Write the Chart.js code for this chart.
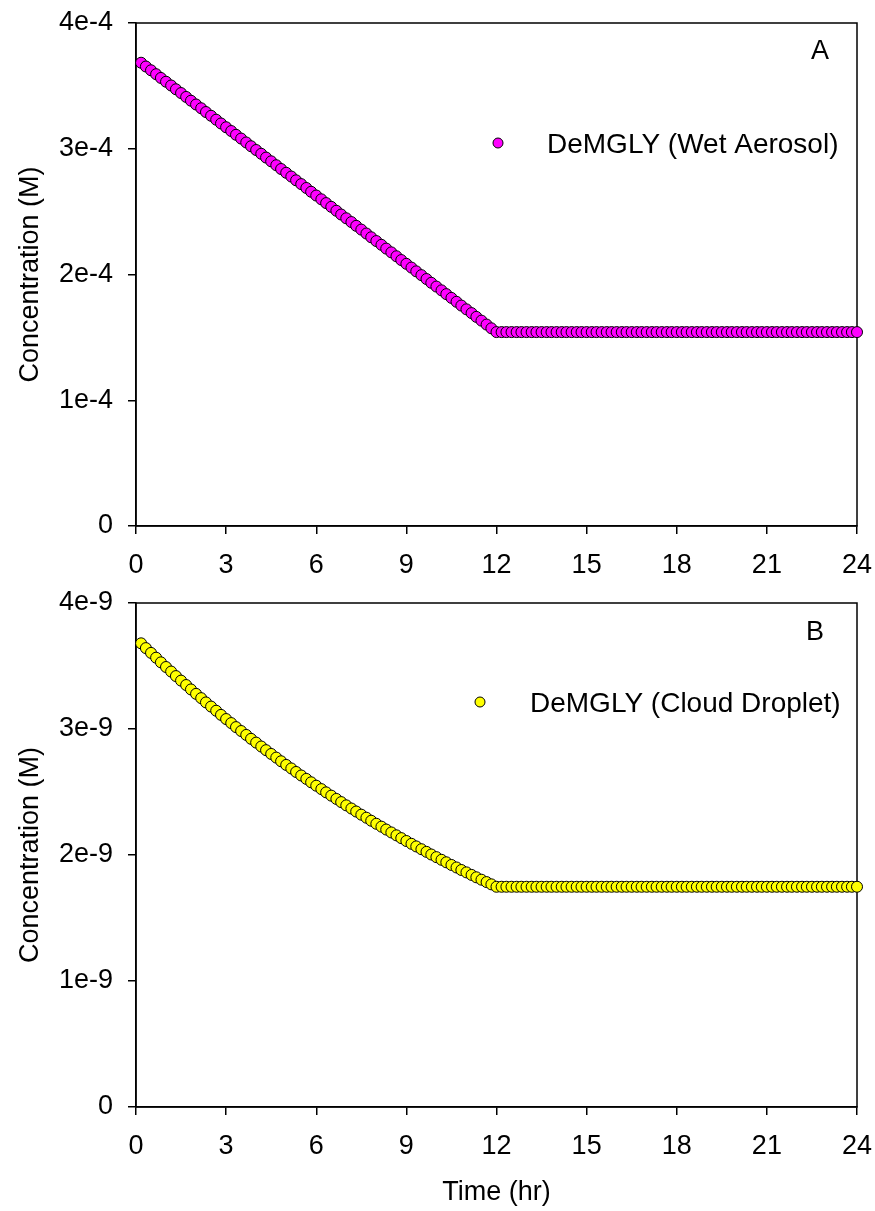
<!DOCTYPE html>
<html>
<head>
<meta charset="utf-8">
<script src="https://cdn.jsdelivr.net/npm/chart.js@4"></script>
<style>
  body { margin: 0; background: #fff; }
  #wrap { position: relative; width: 875px; height: 1211px; }
  canvas { position: absolute; left: 0; }
</style>
</head>
<body>
<div id="wrap">
  <canvas id="chartA" width="875" height="590" style="top:0"></canvas>
  <canvas id="chartB" width="875" height="621" style="top:590px"></canvas>
</div>
<script>
// time in hours (every 10 minutes)
const timeHr = [
  0.17,0.33,0.5,0.67,0.83,1, 1.17,1.33,1.5,1.67,1.83,2,
  2.17,2.33,2.5,2.67,2.83,3, 3.17,3.33,3.5,3.67,3.83,4,
  4.17,4.33,4.5,4.67,4.83,5, 5.17,5.33,5.5,5.67,5.83,6,
  6.17,6.33,6.5,6.67,6.83,7, 7.17,7.33,7.5,7.67,7.83,8,
  8.17,8.33,8.5,8.67,8.83,9, 9.17,9.33,9.5,9.67,9.83,10,
  10.17,10.33,10.5,10.67,10.83,11, 11.17,11.33,11.5,11.67,11.83,12,
  12.17,12.33,12.5,12.67,12.83,13, 13.17,13.33,13.5,13.67,13.83,14,
  14.17,14.33,14.5,14.67,14.83,15, 15.17,15.33,15.5,15.67,15.83,16,
  16.17,16.33,16.5,16.67,16.83,17, 17.17,17.33,17.5,17.67,17.83,18,
  18.17,18.33,18.5,18.67,18.83,19, 19.17,19.33,19.5,19.67,19.83,20,
  20.17,20.33,20.5,20.67,20.83,21, 21.17,21.33,21.5,21.67,21.83,22,
  22.17,22.33,22.5,22.67,22.83,23, 23.17,23.33,23.5,23.67,23.83,24
];

// DeMGLY, wet aerosol (M)
const wetAerosol = [
  3.684e-4,3.654e-4,3.624e-4,3.593e-4,3.563e-4,3.533e-4,3.503e-4,3.473e-4,3.443e-4,3.412e-4,
  3.382e-4,3.352e-4,3.322e-4,3.292e-4,3.262e-4,3.231e-4,3.201e-4,3.171e-4,3.141e-4,3.111e-4,
  3.081e-4,3.050e-4,3.020e-4,2.990e-4,2.960e-4,2.930e-4,2.900e-4,2.869e-4,2.839e-4,2.809e-4,
  2.779e-4,2.749e-4,2.719e-4,2.688e-4,2.658e-4,2.628e-4,2.598e-4,2.568e-4,2.538e-4,2.507e-4,
  2.477e-4,2.447e-4,2.417e-4,2.387e-4,2.357e-4,2.326e-4,2.296e-4,2.266e-4,2.236e-4,2.206e-4,
  2.176e-4,2.145e-4,2.115e-4,2.085e-4,2.055e-4,2.025e-4,1.995e-4,1.964e-4,1.934e-4,1.904e-4,
  1.874e-4,1.844e-4,1.814e-4,1.783e-4,1.753e-4,1.723e-4,1.693e-4,1.663e-4,1.633e-4,1.602e-4,
  1.572e-4,1.542e-4,
  1.542e-4,1.542e-4,1.542e-4,1.542e-4,1.542e-4,1.542e-4,1.542e-4,1.542e-4,1.542e-4,1.542e-4,1.542e-4,1.542e-4,
  1.542e-4,1.542e-4,1.542e-4,1.542e-4,1.542e-4,1.542e-4,1.542e-4,1.542e-4,1.542e-4,1.542e-4,1.542e-4,1.542e-4,
  1.542e-4,1.542e-4,1.542e-4,1.542e-4,1.542e-4,1.542e-4,1.542e-4,1.542e-4,1.542e-4,1.542e-4,1.542e-4,1.542e-4,
  1.542e-4,1.542e-4,1.542e-4,1.542e-4,1.542e-4,1.542e-4,1.542e-4,1.542e-4,1.542e-4,1.542e-4,1.542e-4,1.542e-4,
  1.542e-4,1.542e-4,1.542e-4,1.542e-4,1.542e-4,1.542e-4,1.542e-4,1.542e-4,1.542e-4,1.542e-4,1.542e-4,1.542e-4,
  1.542e-4,1.542e-4,1.542e-4,1.542e-4,1.542e-4,1.542e-4,1.542e-4,1.542e-4,1.542e-4,1.542e-4,1.542e-4,1.542e-4
];

// DeMGLY, cloud droplet (M)
const cloudDroplet = [
  3.680e-9,3.642e-9,3.604e-9,3.566e-9,3.529e-9,3.492e-9,3.456e-9,3.420e-9,3.384e-9,3.349e-9,
  3.314e-9,3.279e-9,3.245e-9,3.211e-9,3.178e-9,3.145e-9,3.112e-9,3.079e-9,3.047e-9,3.015e-9,
  2.984e-9,2.953e-9,2.922e-9,2.892e-9,2.861e-9,2.832e-9,2.802e-9,2.773e-9,2.744e-9,2.715e-9,
  2.687e-9,2.659e-9,2.631e-9,2.604e-9,2.577e-9,2.550e-9,2.523e-9,2.497e-9,2.471e-9,2.445e-9,
  2.420e-9,2.394e-9,2.369e-9,2.345e-9,2.320e-9,2.296e-9,2.272e-9,2.248e-9,2.225e-9,2.202e-9,
  2.179e-9,2.156e-9,2.134e-9,2.111e-9,2.089e-9,2.068e-9,2.046e-9,2.025e-9,2.004e-9,1.983e-9,
  1.962e-9,1.942e-9,1.921e-9,1.901e-9,1.881e-9,1.862e-9,1.842e-9,1.823e-9,1.804e-9,1.785e-9,
  1.767e-9,1.748e-9,
  1.748e-9,1.748e-9,1.748e-9,1.748e-9,1.748e-9,1.748e-9,1.748e-9,1.748e-9,1.748e-9,1.748e-9,1.748e-9,1.748e-9,
  1.748e-9,1.748e-9,1.748e-9,1.748e-9,1.748e-9,1.748e-9,1.748e-9,1.748e-9,1.748e-9,1.748e-9,1.748e-9,1.748e-9,
  1.748e-9,1.748e-9,1.748e-9,1.748e-9,1.748e-9,1.748e-9,1.748e-9,1.748e-9,1.748e-9,1.748e-9,1.748e-9,1.748e-9,
  1.748e-9,1.748e-9,1.748e-9,1.748e-9,1.748e-9,1.748e-9,1.748e-9,1.748e-9,1.748e-9,1.748e-9,1.748e-9,1.748e-9,
  1.748e-9,1.748e-9,1.748e-9,1.748e-9,1.748e-9,1.748e-9,1.748e-9,1.748e-9,1.748e-9,1.748e-9,1.748e-9,1.748e-9,
  1.748e-9,1.748e-9,1.748e-9,1.748e-9,1.748e-9,1.748e-9,1.748e-9,1.748e-9,1.748e-9,1.748e-9,1.748e-9,1.748e-9
];

const xTicks = [0, 3, 6, 9, 12, 15, 18, 21, 24];
const yTicksA = [0, 1e-4, 2e-4, 3e-4, 4e-4];
const yLabelsA = ['0', '1e-4', '2e-4', '3e-4', '4e-4'];
const yTicksB = [0, 1e-9, 2e-9, 3e-9, 4e-9];
const yLabelsB = ['0', '1e-9', '2e-9', '3e-9', '4e-9'];

const FONT = '"Liberation Sans", Arial, sans-serif';
Chart.defaults.font.family = FONT;
Chart.defaults.font.size = 27;
Chart.defaults.color = '#000';

// box around the plot + legend + panel letter
const decor = {
  id: 'decor',
  beforeDatasetsDraw(chart) {
    const {ctx, chartArea: a} = chart;
    ctx.save();
    ctx.strokeStyle = '#000';
    ctx.lineWidth = 1.5;
    ctx.strokeRect(a.left, a.top, a.right - a.left, a.bottom - a.top);
    ctx.restore();
  },
  afterDatasetsDraw(chart, args, o) {
    const {ctx, chartArea: a} = chart;
    const ds = chart.data.datasets[0];
    ctx.save();
    ctx.beginPath();
    ctx.arc(a.left + o.markX, a.top + o.markY, 5, 0, Math.PI * 2);
    ctx.fillStyle = ds.backgroundColor;
    ctx.fill();
    ctx.strokeStyle = '#000';
    ctx.lineWidth = 1;
    ctx.stroke();
    ctx.fillStyle = '#000';
    ctx.font = '28px ' + FONT;
    ctx.textBaseline = 'middle';
    ctx.textAlign = 'left';
    ctx.fillText(ds.label, a.left + o.textX, a.top + o.markY + 2);
    ctx.font = '27px ' + FONT;
    ctx.textAlign = 'center';
    ctx.fillText(o.letter, a.left + o.letterX, a.top + o.letterY);
    ctx.restore();
  }
};

function makePanel(id, values, color, label, yTicks, yLabels, opts) {
  return new Chart(document.getElementById(id), {
    type: 'scatter',
    data: {
      datasets: [{
        label: label,
        data: timeHr.map((t, i) => ({x: t, y: values[i]})),
        backgroundColor: color,
        borderColor: '#000',
        borderWidth: 1,
        pointRadius: 5.5,
        pointHoverRadius: 5.5,
        clip: false
      }]
    },
    options: {
      responsive: false,
      animation: false,
      devicePixelRatio: 1,
      layout: {padding: {top: opts.padTop, left: 0, right: 18, bottom: 0}},
      plugins: {
        legend: {display: false},
        tooltip: {enabled: false},
        decor: opts.decor
      },
      scales: {
        x: {
          type: 'linear',
          min: 0, max: 24,
          afterBuildTicks: s => { s.ticks = xTicks.map(v => ({value: v})); },
          afterFit: s => { s.height = opts.xHeight; s.paddingLeft = 0; s.paddingRight = 0; },
          ticks: {padding: 15, maxRotation: 0, callback: v => String(v)},
          grid: {drawOnChartArea: false, drawTicks: true, tickLength: 8, color: '#000', lineWidth: 1.5},
          border: {display: true, color: '#000', width: 1.5},
          title: {display: opts.xTitle, text: 'Time (hr)', padding: {top: 0, bottom: 2}}
        },
        y: {
          min: 0, max: yTicks[yTicks.length - 1],
          afterBuildTicks: s => { s.ticks = yTicks.map(v => ({value: v})); },
          afterFit: s => { s.width = 136; s.paddingTop = 0; s.paddingBottom = 0; },
          ticks: {padding: 15, callback: (v, i) => yLabels[i]},
          grid: {drawOnChartArea: false, drawTicks: true, tickLength: 8, color: '#000', lineWidth: 1.5},
          border: {display: true, color: '#000', width: 1.5},
          title: {display: true, text: 'Concentration (M)', padding: {top: 14, bottom: 0}}
        }
      }
    },
    plugins: [decor]
  });
}

makePanel('chartA', wetAerosol, '#ff00ff', 'DeMGLY (Wet Aerosol)', yTicksA, yLabelsA, {
  padTop: 23, xHeight: 64, xTitle: false,
  decor: {markX: 362, markY: 120, textX: 411, letter: 'A', letterX: 684, letterY: 29}
});

makePanel('chartB', cloudDroplet, '#ffff00', 'DeMGLY (Cloud Droplet)', yTicksB, yLabelsB, {
  padTop: 13, xHeight: 104, xTitle: true,
  decor: {markX: 344, markY: 99, textX: 394, letter: 'B', letterX: 679, letterY: 30}
});
</script>
</body>
</html>
